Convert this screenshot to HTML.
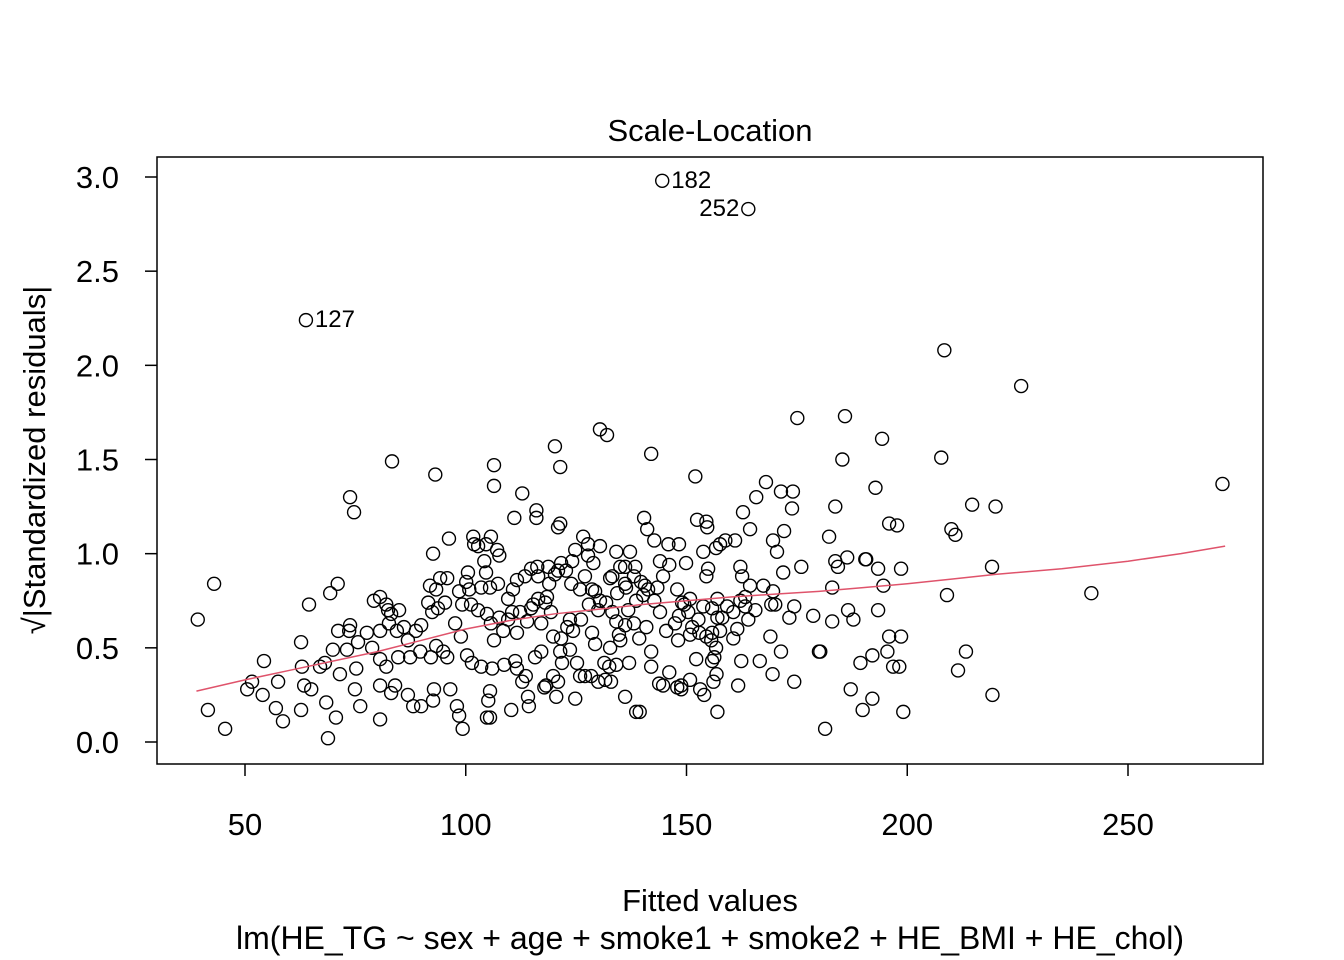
<!DOCTYPE html>
<html><head><meta charset="utf-8">
<style>
html,body{margin:0;padding:0;background:#fff;}
svg{display:block;font-family:"Liberation Sans",Arial,sans-serif;}
</style></head>
<body>
<svg id="chart" width="1344" height="960" viewBox="0 0 1344 960" xmlns="http://www.w3.org/2000/svg">
<rect x="0" y="0" width="1344" height="960" fill="#fff"/>
<text x="710" y="141" font-size="31" text-anchor="middle">Scale-Location</text>
<rect x="157" y="157" width="1106" height="607" fill="none" stroke="#000" stroke-width="1.5"/>
<g id="xaxis"></g>
<g id="yaxis"></g>
<g id="points"></g>
<g id="smooth"></g>
<g id="labels"></g>
<text x="710" y="911" font-size="31" text-anchor="middle">Fitted values</text>
<text x="710" y="949" font-size="32" text-anchor="middle">lm(HE_TG ~ sex + age + smoke1 + smoke2 + HE_BMI + HE_chol)</text>
<text transform="translate(45,460) rotate(-90)" font-size="31" text-anchor="middle">√|Standardized residuals|</text>
</svg>
<script>
const xTicks = [50, 100, 150, 200, 250];
const yTicks = [0.0, 0.5, 1.0, 1.5, 2.0, 2.5, 3.0];
const fitted = [144.5,164.0,63.8,208.4,225.8,271.4,241.7,39.3,43.0,41.6,45.5,175.1,185.9,194.3,207.7,185.3,192.8,214.7,220.0,210.0,210.9,195.9,197.7,219.2,209.0,211.5,213.3,219.3,199.1,198.6,193.4,190.5,194.6,193.4,186.6,187.8,195.9,198.6,195.5,196.8,198.2,192.1,189.4,192.1,189.9,187.2,181.4,180.0,183.0,183.0,183.7,182.3,183.7,184.3,186.4,178.7,174.4,174.4,176.0,173.9,174.1,171.4,168.0,165.8,162.8,164.4,172.1,169.6,170.5,171.9,167.4,169.2,173.3,169.0,171.4,166.6,169.5,162.4,161.7,157.0,156.8,155.8,153.1,148.8,146.1,152.2,144.7,139.4,142.0,136.1,130.0,127.0,131.4,137.0,124.8,120.5,119.8,118.2,114.3,113.6,110.3,105.5,105.5,99.3,98.5,96.5,92.8,89.9,86.9,84.0,80.6,80.6,76.1,70.6,68.8,65.0,62.7,58.6,57.0,54.0,50.5,54.3,62.7,71.1,64.5,69.3,71.0,73.8,74.7,83.3,93.1,92.6,96.2,142.0,
180.3,190.7,169.6,170.1,156.1,154.0,150.8,148.8,142.0,138.6,132.9,131.6,128.4,125.9,132.5,134.1,120.9,117.8,114.1,112.8,104.8,105.1,98.0,92.6,88.1,83.1,80.6,82.0,74.9,68.4,63.4,51.6,57.5,62.9,67.0,68.1,71.5,75.2,69.9,73.1,73.6,75.6,78.8,77.6,80.6,73.8,79.2,80.6,82.0,82.4,83.1,84.9,82.6,84.4,86.0,86.9,88.7,89.9,84.7,87.4,89.7,92.1,93.3,94.9,95.8,92.4,93.7,95.3,91.5,91.9,93.3,94.2,95.8,98.5,100.1,100.8,99.2,101.2,102.8,104.8,97.6,98.9,100.3,101.4,103.5,106.0,108.7,111.2,111.6,106.4,108.5,105.7,107.6,109.6,110.5,111.6,112.3,113.9,114.8,115.3,116.4,118.0,118.4,119.3,117.1,119.8,121.6,123.0,124.3,123.6,126.1,127.9,130.0,129.3,131.8,133.2,134.1,134.7,136.1,138.1,136.8,138.6,140.2,141.3,142.7,144.0,145.4,147.4,148.3,149.5,150.4,151.3,152.7,153.8,155.8,157.0,158.1,159.2,160.6,162.2,163.3,163.3,164.0,165.6,154.5,154.9,153.8,156.7,157.6,158.8,161.0,162.2,162.6,164.4,149.9,148.3,145.9,144.0,142.7,140.4,141.1,152.4,154.5,154.7,152.0,137.2,135.0,133.2,136.1,138.1,139.7,140.6,138.4,136.1,132.7,128.9,127.7,127.0,125.9,123.9,122.7,121.6,120.9,118.9,116.4,114.8,113.4,111.6,110.7,109.6,107.3,105.5,104.6,104.2,107.1,107.6,105.7,101.7,101.9,102.8,104.6,100.5,103.5,106.4,106.4,112.8,111.0,116.0,116.0,120.9,121.4,120.2,121.4,130.4,132.0,126.6,127.7,130.4,134.1,124.8,116.2,118.7,120.2,124.1,128.6,130.4,134.3,136.3,143.4,144.7,146.1,147.9,149.0,150.8,148.1,150.8,152.9,155.6,157.6,161.5,160.6,156.7,156.3,139.3,140.9,135.0,132.7,129.3,128.6,123.6,121.4,117.1,115.7,121.8,125.2,143.8,147.9,154.5,155.8,157.0];
const sqrtResid = [2.98,2.83,2.24,2.08,1.89,1.37,0.79,0.65,0.84,0.17,0.07,1.72,1.73,1.61,1.51,1.50,1.35,1.26,1.25,1.13,1.10,1.16,1.15,0.93,0.78,0.38,0.48,0.25,0.16,0.92,0.92,0.97,0.83,0.70,0.70,0.65,0.56,0.56,0.48,0.40,0.40,0.46,0.42,0.23,0.17,0.28,0.07,0.48,0.64,0.82,0.96,1.09,1.25,0.93,0.98,0.67,0.72,0.32,0.93,1.24,1.33,1.33,1.38,1.30,1.22,1.13,1.12,1.07,1.01,0.90,0.83,0.73,0.66,0.56,0.48,0.43,0.36,0.43,0.30,0.16,0.36,0.43,0.28,0.28,0.37,0.44,0.30,0.16,0.40,0.24,0.32,0.35,0.42,0.42,0.23,0.24,0.35,0.30,0.19,0.35,0.17,0.13,0.27,0.07,0.14,0.28,0.28,0.19,0.25,0.30,0.44,0.12,0.19,0.13,0.02,0.28,0.17,0.11,0.18,0.25,0.28,0.43,0.53,0.59,0.73,0.79,0.84,1.30,1.22,1.49,1.42,1.00,1.08,1.53,
0.48,0.97,0.80,0.73,0.32,0.25,0.33,0.30,0.48,0.16,0.32,0.33,0.35,0.35,0.40,0.41,0.32,0.29,0.24,0.32,0.13,0.22,0.19,0.22,0.19,0.26,0.30,0.40,0.28,0.21,0.30,0.32,0.32,0.40,0.40,0.42,0.36,0.39,0.49,0.49,0.59,0.53,0.50,0.58,0.59,0.62,0.75,0.77,0.73,0.70,0.68,0.70,0.63,0.59,0.61,0.54,0.59,0.62,0.45,0.45,0.48,0.45,0.51,0.48,0.45,0.69,0.71,0.74,0.74,0.83,0.81,0.87,0.87,0.80,0.85,0.81,0.73,0.73,0.70,0.68,0.63,0.56,0.46,0.42,0.40,0.39,0.41,0.43,0.39,0.54,0.59,0.63,0.66,0.65,0.69,0.58,0.69,0.64,0.71,0.73,0.76,0.74,0.77,0.69,0.63,0.56,0.55,0.61,0.59,0.65,0.65,0.73,0.70,0.80,0.74,0.69,0.64,0.57,0.62,0.63,0.70,0.75,0.78,0.81,0.75,0.69,0.59,0.63,0.67,0.73,0.69,0.61,0.65,0.72,0.71,0.66,0.66,0.72,0.69,0.75,0.72,0.77,0.65,0.70,0.88,0.92,1.01,1.03,1.05,1.07,1.07,0.93,0.88,0.83,0.95,1.05,1.05,0.96,1.07,1.19,1.13,1.18,1.17,1.14,1.41,1.01,0.93,0.88,0.84,0.88,0.85,0.83,0.93,0.93,0.87,0.95,0.99,0.88,0.81,0.84,0.91,0.95,0.91,0.84,0.88,0.92,0.88,0.86,0.81,0.76,0.84,0.82,0.90,0.96,1.02,0.99,1.09,1.09,1.05,1.04,1.05,0.90,0.82,1.47,1.36,1.32,1.19,1.23,1.19,1.14,1.16,1.57,1.46,1.66,1.63,1.09,1.05,1.04,1.01,1.02,0.93,0.93,0.89,0.96,0.81,0.75,0.79,0.82,0.82,0.88,0.94,0.81,0.74,0.76,0.54,0.57,0.58,0.54,0.59,0.60,0.55,0.50,0.45,0.55,0.61,0.54,0.50,0.52,0.58,0.49,0.48,0.48,0.45,0.42,0.42,0.31,0.29,0.56,0.58,0.76];
const smoothX = [39, 50, 60, 70, 80, 90, 100, 110, 120, 130, 140, 150, 160, 170, 180, 190, 200, 210, 220, 235, 250, 262, 272];
const smoothY = [0.27, 0.33, 0.38, 0.43, 0.48, 0.54, 0.60, 0.645, 0.68, 0.705, 0.73, 0.75, 0.77, 0.785, 0.80, 0.82, 0.84, 0.865, 0.89, 0.92, 0.96, 1.00, 1.04];
const labelText = ["182", "252", "127"];
const labelIdx = [0, 1, 2];
const labelSide = ["right", "left", "right"];

const NS = "http://www.w3.org/2000/svg";
function sx(v){ return 245 + (v - 50) * (1128 - 245) / 200; }
function sy(v){ return 742 - v * (742 - 177) / 3; }
function mk(tag, attrs, parent){
  const e = document.createElementNS(NS, tag);
  for (const k in attrs) e.setAttribute(k, attrs[k]);
  parent.appendChild(e);
  return e;
}
const xa = document.getElementById('xaxis');
xTicks.forEach(t => {
  const l = mk('line', {x1:sx(t), x2:sx(t), y1:764, y2:776, stroke:'#000', 'stroke-width':1.5}, xa);
  
  
  const tx = mk('text', {x:sx(t), y:835, 'font-size':31, 'text-anchor':'middle'}, xa);
  tx.textContent = String(t);
  
  
});
const ya = document.getElementById('yaxis');
yTicks.forEach(t => {
  const l = mk('line', {x1:145, x2:157, y1:sy(t), y2:sy(t), stroke:'#000', 'stroke-width':1.5}, ya);
  
  
  const tx = mk('text', {x:119, y:sy(t) + 11, 'font-size':31, 'text-anchor':'end'}, ya);
  tx.textContent = t.toFixed(1);
  
  
});
const pg = document.getElementById('points');
fitted.forEach((v, i) => {
  const c = mk('circle', {cx:sx(v), cy:sy(sqrtResid[i]), r:6.5, fill:'none', stroke:'#000', 'stroke-width':1.4}, pg);
  
  
});
const sg = document.getElementById('smooth');
const p = mk('polyline', {points: smoothX.map((v,i)=>sx(v)+','+sy(smoothY[i])).join(' '), fill:'none', stroke:'#DF536B', 'stroke-width':1.5}, sg);


const lg = document.getElementById('labels');
labelText.forEach((s, k) => {
  const i = labelIdx[k];
  const right = labelSide[k] === 'right';
  const t = mk('text', {x: sx(fitted[i]) + (right ? 9 : -9), y: sy(sqrtResid[i]) + 7, 'font-size':24, 'text-anchor': right ? 'start' : 'end'}, lg);
  t.textContent = s;
  
  
});
</script>
</body></html>
